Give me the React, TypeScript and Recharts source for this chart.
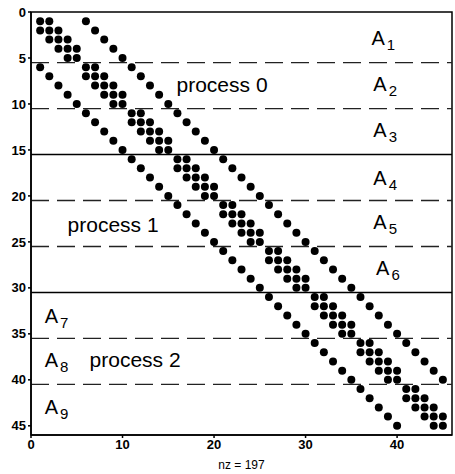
import {
  ScatterChart,
  Scatter,
  XAxis,
  YAxis,
  ReferenceLine,
  ReferenceArea,
  ReferenceDot,
} from "recharts"

// nonzero columns of each row (rows 1..45)
const ROW_COLS: number[][] = [
  [1, 2, 6],
  [1, 2, 3, 7],
  [2, 3, 4, 8],
  [3, 4, 5, 9],
  [4, 5, 10],
  [1, 6, 7, 11],
  [2, 6, 7, 8, 12],
  [3, 7, 8, 9, 13],
  [4, 8, 9, 10, 14],
  [5, 9, 10, 15],
  [6, 11, 12, 16],
  [7, 11, 12, 13, 17],
  [8, 12, 13, 14, 18],
  [9, 13, 14, 15, 19],
  [10, 14, 15, 20],
  [11, 16, 17, 21],
  [12, 16, 17, 18, 22],
  [13, 17, 18, 19, 23],
  [14, 18, 19, 20, 24],
  [15, 19, 20, 25],
  [16, 21, 22, 26],
  [17, 21, 22, 23, 27],
  [18, 22, 23, 24, 28],
  [19, 23, 24, 25, 29],
  [20, 24, 25, 30],
  [21, 26, 27, 31],
  [22, 26, 27, 28, 32],
  [23, 27, 28, 29, 33],
  [24, 28, 29, 30, 34],
  [25, 29, 30, 35],
  [26, 31, 32, 36],
  [27, 31, 32, 33, 37],
  [28, 32, 33, 34, 38],
  [29, 33, 34, 35, 39],
  [30, 34, 35, 40],
  [31, 36, 37, 41],
  [32, 36, 37, 38, 42],
  [33, 37, 38, 39, 43],
  [34, 38, 39, 40, 44],
  [35, 39, 40, 45],
  [36, 41, 42],
  [37, 41, 42, 43],
  [38, 42, 43, 44],
  [39, 43, 44, 45],
  [40, 44, 45],
]

const X_TICKS = [0, 10, 20, 30, 40]
const Y_TICKS = [0, 5, 10, 15, 20, 25, 30, 35, 40, 45]
const DASHED_ROWS = [5.5, 10.5, 20.5, 25.5, 35.5, 40.5]
const SOLID_ROWS = [15.5, 30.5]

const BLOCK_LABELS = [
  { x: 37.2, y: 2.8, sub: "1" },
  { x: 37.4, y: 7.8, sub: "2" },
  { x: 37.4, y: 12.8, sub: "3" },
  { x: 37.4, y: 18, sub: "4" },
  { x: 37.4, y: 22.8, sub: "5" },
  { x: 37.7, y: 27.8, sub: "6" },
  { x: 1.5, y: 33.1, sub: "7" },
  { x: 1.5, y: 37.8, sub: "8" },
  { x: 1.5, y: 43, sub: "9" },
]

const PROCESS_LABELS = [
  { x: 15.9, y: 7.9, text: "process 0" },
  { x: 4.0, y: 23.2, text: "process 1" },
  { x: 6.4, y: 37.8, text: "process 2" },
]

const FONT = "'Liberation Sans', Arial, Helvetica, sans-serif"

const points = ROW_COLS.flatMap((cols, r) => cols.map((c) => ({ x: c, y: r + 1 })))

export default function App() {
  return (
    <div style={{ position: "absolute", left: 0, top: 0, fontFamily: FONT }}>
      <ScatterChart width={455} height={474} margin={{ top: 12, right: 3, left: 0, bottom: 0 }}>
        <XAxis
          type="number"
          dataKey="x"
          domain={[0, 46]}
          ticks={X_TICKS}
          allowDataOverflow
          height={39}
          tickSize={3}
          stroke="#000"
          strokeWidth={1.5}
          tick={{ fontSize: 13, fontWeight: 700, fill: "#000", fontFamily: FONT }}
          label={{ value: "nz = 197", position: "insideBottom", offset: 5, fontSize: 12, fill: "#000", fontFamily: FONT }}
        />
        <YAxis
          type="number"
          dataKey="y"
          domain={[0, 46]}
          ticks={Y_TICKS}
          reversed
          allowDataOverflow
          width={31}
          tickSize={3}
          stroke="#000"
          strokeWidth={1.5}
          tick={{ fontSize: 13, fontWeight: 700, fill: "#000", fontFamily: FONT }}
        />
        <ReferenceArea x1={0} x2={46} y1={0} y2={46} fill="none" stroke="#000" strokeWidth={1.5} />
        {DASHED_ROWS.map((y) => (
          <ReferenceLine key={`d-${y}`} y={y} stroke="#222" strokeWidth={1.3} strokeDasharray="18 8" />
        ))}
        {SOLID_ROWS.map((y) => (
          <ReferenceLine key={`s-${y}`} y={y} stroke="#000" strokeWidth={1.5} />
        ))}
        <Scatter
          data={points}
          isAnimationActive={false}
          // eslint-disable-next-line @typescript-eslint/no-explicit-any
          shape={(p: any) => <circle cx={p.cx} cy={p.cy} r={4} fill="#000" />}
        />
        {BLOCK_LABELS.map((l) => (
          <ReferenceDot
            key={`a-${l.sub}`}
            x={l.x}
            y={l.y}
            r={0}
            // eslint-disable-next-line @typescript-eslint/no-explicit-any
            shape={(p: any) => (
              <text x={p.cx} y={p.cy + 7} fontSize={20} fill="#000" fontFamily={FONT}>
                A
                <tspan fontSize={15} dx={2} dy={5}>
                  {l.sub}
                </tspan>
              </text>
            )}
          />
        ))}
        {PROCESS_LABELS.map((l) => (
          <ReferenceDot
            key={l.text}
            x={l.x}
            y={l.y}
            r={0}
            // eslint-disable-next-line @typescript-eslint/no-explicit-any
            shape={(p: any) => (
              <text x={p.cx} y={p.cy + 7} fontSize={21} fill="#000" fontFamily={FONT}>
                {l.text}
              </text>
            )}
          />
        ))}
      </ScatterChart>
    </div>
  )
}
